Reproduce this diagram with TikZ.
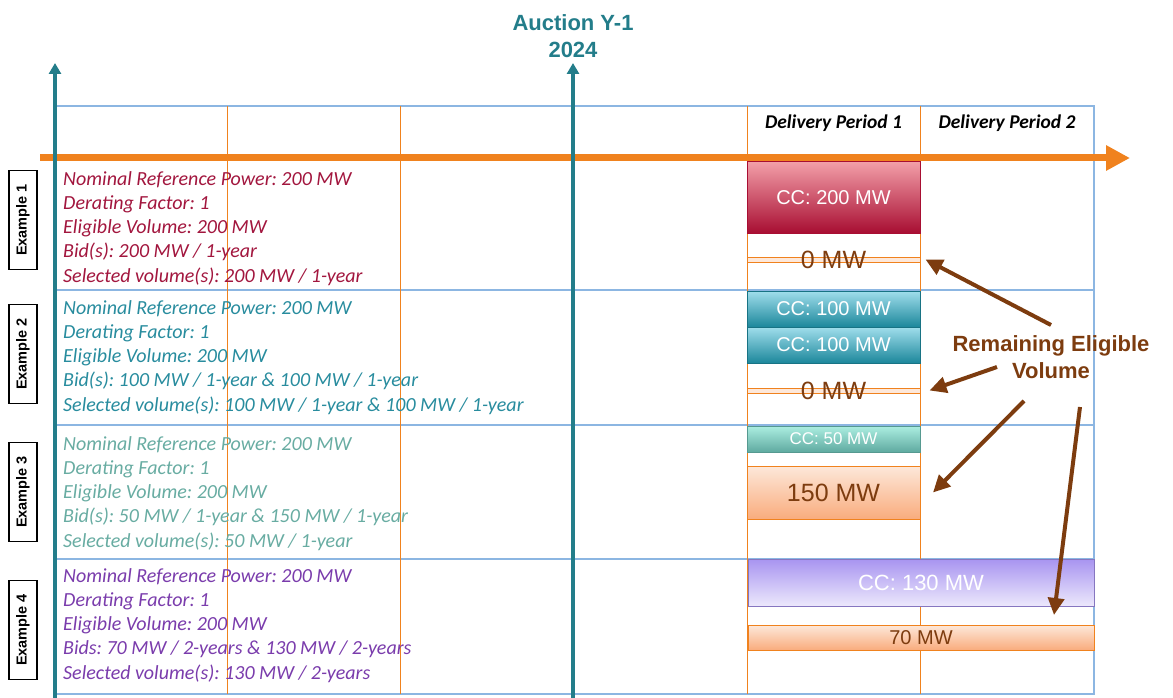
\documentclass[tikz,border=0pt]{standalone}
\usepackage{fontspec}
\setmainfont{Carlito}
\setsansfont{Liberation Sans}
\usepackage{tikz}
\usetikzlibrary{
  arrows.meta,
  positioning
}
\frenchspacing
\definecolor{capTeal}{RGB}{35,125,138}
\definecolor{capOrange}{RGB}{240,130,30}
\definecolor{capGrid}{RGB}{140,182,226}
\definecolor{capBrown}{RGB}{125,60,15}
\definecolor{exRed}{RGB}{162,22,62}
\definecolor{exTeal}{RGB}{40,140,158}
\definecolor{exMint}{RGB}{104,172,162}
\definecolor{exPurple}{RGB}{122,60,172}
%% bar gradients
\definecolor{redTop}{RGB}{242,158,168}
\definecolor{redBot}{RGB}{168,14,50}
\definecolor{tealTop}{RGB}{160,222,236}
\definecolor{tealBot}{RGB}{28,135,155}
\definecolor{mintTop}{RGB}{172,238,225}
\definecolor{mintBot}{RGB}{95,170,160}
\definecolor{remTop}{RGB}{253,232,218}
\definecolor{remBot}{RGB}{249,172,125}
\definecolor{violetTop}{RGB}{168,148,240}
\definecolor{violetBot}{RGB}{236,232,252}

\begin{document}
\begin{tikzpicture}[
  x=1pt, y=-1pt,
  %% Table lines
  gridline/.style={draw=capGrid, line width=1.6pt},
  periodline/.style={draw=capOrange, line width=1pt},
  timeaxis/.style={-{Triangle[length=24pt,width=24pt]}, capOrange, line width=7pt},
  auctionaxis/.style={-{Triangle[length=11pt,width=12pt]}, capTeal, line width=3.5pt},
  %% Rotated example tag on the left
  extag/.style={
    draw=black, fill=white, line width=1.2pt,
    rotate=90,
    minimum width=99pt, minimum height=28pt, inner sep=1pt,
    font=\sffamily\bfseries\fontsize{14.5}{14.5}\selectfont
  },
  %% Example description (1-arg: colour)
  info/.style={
    anchor=north west, inner sep=0pt, align=left, text=#1,
    font=\itshape\fontsize{20}{24.3}\selectfont
  },
  header/.style={font=\bfseries\itshape\fontsize{19.5}{19.5}\selectfont},
  %% Capacity bars (args: top colour, bottom colour, border)
  ccbar/.style n args={3}{
    top color=#1, bottom color=#2, draw=#3, line width=1pt,
    inner sep=0pt, outer sep=0pt, text=white,
    font=\sffamily\fontsize{20}{20}\selectfont
  },
  rembar/.style={
    ccbar={remTop}{remBot}{capOrange}, text=capBrown
  },
  zerobar/.style={
    draw=capOrange, fill=remTop, line width=1pt,
    inner sep=0pt, minimum width=173pt, minimum height=5pt
  },
  mwtext/.style={text=capBrown, font=\sffamily\fontsize{25}{25}\selectfont},
  remarrow/.style={-{Triangle[length=17pt,width=16pt]}, capBrown, line width=4pt}
]
\useasboundingbox (0,0) rectangle (1173,698);

%% ---- Table grid ----
\draw[gridline] (55,106) rectangle (1094,694);
\foreach \yy in {290,425,559}
  \draw[gridline] (55,\yy) -- (1094,\yy);
\foreach \xx in {227,400,747,920}
  \draw[periodline] (\xx,106) -- (\xx,694);

%% ---- Time axis and auction markers ----
\coordinate (axisstart) at (40,158);
\coordinate (axisend)   at (1130,158);
\draw[timeaxis] (axisstart) -- (axisend);

\coordinate (leftfoot) at (55,698);
\coordinate (lefttop)  at (55,63);
\coordinate (aucfoot)  at (573,698);
\coordinate (auctop)   at (573,63);
\draw[auctionaxis] (leftfoot) -- (lefttop);
\draw[auctionaxis] (aucfoot) -- (auctop);

\node[align=center, text=capTeal, font=\sffamily\bfseries\fontsize{22}{27}\selectfont]
  (auction) at (573,36) {Auction Y-1\\2024};

\node[header] (dp1) at (833.5,123) {Delivery Period 1};
\node[header] (dp2) at (1007,123)  {Delivery Period 2};

%% ---- Example tags ----
\node[extag] (ex1) at (23,220) {Example 1};
\node[extag] (ex2) at (23,354) {Example 2};
\node[extag] (ex3) at (23,492) {Example 3};
\node[extag] (ex4) at (23,630) {Example 4};

%% ---- Example descriptions ----
\node[info=exRed] (txt1) at (63,171)
  {Nominal Reference Power: 200 MW\\
   Derating Factor: 1\\
   Eligible Volume: 200 MW\\
   Bid(s): 200 MW / 1-year\\
   Selected volume(s): 200 MW / 1-year};

\node[info=exTeal] (txt2) at (63,300)
  {Nominal Reference Power: 200 MW\\
   Derating Factor: 1\\
   Eligible Volume: 200 MW\\
   Bid(s): 100 MW / 1-year \& 100 MW / 1-year\\
   Selected volume(s): 100 MW / 1-year \& 100 MW / 1-year};

\node[info=exMint] (txt3) at (63,436)
  {Nominal Reference Power: 200 MW\\
   Derating Factor: 1\\
   Eligible Volume: 200 MW\\
   Bid(s): 50 MW / 1-year \& 150 MW / 1-year\\
   Selected volume(s): 50 MW / 1-year};

\node[info=exPurple] (txt4) at (63,568)
  {Nominal Reference Power: 200 MW\\
   Derating Factor: 1\\
   Eligible Volume: 200 MW\\
   Bids: 70 MW / 2-years \& 130 MW / 2-years\\
   Selected volume(s): 130 MW / 2-years};

%% ---- Example 1 bars ----
\node[ccbar={redTop}{redBot}{redBot}, minimum width=173pt, minimum height=71pt]
  (cc1) at (833.5,197.5) {CC: 200 MW};
\node[zerobar] (zero1) at (833.5,259.5) {};
\node[mwtext] (zero1txt) at (833.5,260) {0 MW};

%% ---- Example 2 bars ----
\node[ccbar={tealTop}{tealBot}{tealBot!85!black}, minimum width=173pt, minimum height=36pt]
  (cc2a) at (833.5,309) {CC: 100 MW};
\node[ccbar={tealTop}{tealBot}{tealBot!85!black}, minimum width=173pt, minimum height=36pt]
  (cc2b) at (833.5,345) {CC: 100 MW};
\node[zerobar] (zero2) at (833.5,390.5) {};
\node[mwtext] (zero2txt) at (833.5,391) {0 MW};

%% ---- Example 3 bars ----
\node[ccbar={mintTop}{mintBot}{mintBot!90!black}, minimum width=173pt, minimum height=26pt,
      font=\sffamily\fontsize{17}{17}\selectfont]
  (cc3) at (833.5,439) {CC: 50 MW};
\node[rembar, minimum width=173pt, minimum height=53pt,
      font=\sffamily\fontsize{25}{25}\selectfont]
  (rem3) at (833.5,492.5) {150 MW};

%% ---- Example 4 bars ----
\node[ccbar={violetTop}{violetBot}{violetTop!80!black}, minimum width=346pt, minimum height=47pt,
      font=\sffamily\fontsize{22}{22}\selectfont]
  (cc4) at (921,582.5) {CC: 130 MW};
\node[rembar, minimum width=346pt, minimum height=25pt]
  (rem4) at (921,637.5) {70 MW};

%% ---- Remaining eligible volume ----
\node[align=center, text=capBrown, font=\sffamily\bfseries\fontsize{22}{27}\selectfont]
  (remaining) at (1051,357) {Remaining Eligible\\Volume};

\coordinate (from1) at (1051,325);
\coordinate (from2) at (997,367);
\coordinate (from3) at (1024,401);
\coordinate (from4) at (1080,407);
\draw[remarrow] (from1) -- ([xshift=5pt]zero1.east);
\draw[remarrow] (from2) -- ([xshift=9pt]zero2.east);
\draw[remarrow] (from3) -- ([xshift=13pt]rem3.east);
\draw[remarrow] (from4) -- ([xshift=-40pt,yshift=10pt]rem4.north east);

\end{tikzpicture}
\end{document}
